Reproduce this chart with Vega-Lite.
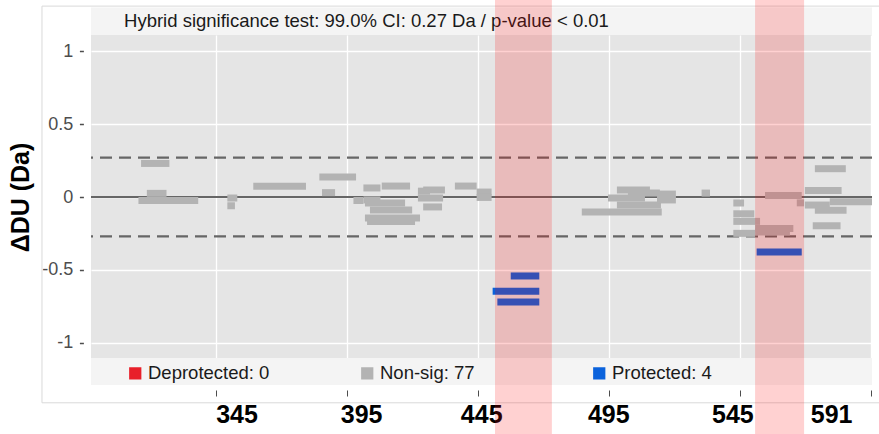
{
  "$schema": "https://vega.github.io/schema/vega-lite/v6.json",
  "width": 781,
  "height": 323,
  "autosize": {"type": "none"},
  "padding": {"left": 91, "top": 35, "right": 7, "bottom": 76},
  "background": "white",
  "config": {
    "view": {"fill": "#e5e5e5", "stroke": null},
    "font": "Liberation Sans"
  },
  "datasets": {
    "peptides": [
      {"start": 316.4, "end": 327.2, "value": 0.23, "status": "Non-sig"},
      {"start": 318.6, "end": 326.1, "value": 0.025, "status": "Non-sig"},
      {"start": 315.4, "end": 338.2, "value": -0.024, "status": "Non-sig"},
      {"start": 349.3, "end": 353.1, "value": -0.007, "status": "Non-sig"},
      {"start": 349.3, "end": 352.2, "value": -0.06, "status": "Non-sig"},
      {"start": 359.2, "end": 379.3, "value": 0.074, "status": "Non-sig"},
      {"start": 384.4, "end": 398.4, "value": 0.137, "status": "Non-sig"},
      {"start": 385.4, "end": 390.4, "value": 0.03, "status": "Non-sig"},
      {"start": 397.4, "end": 401.2, "value": -0.024, "status": "Non-sig"},
      {"start": 401.2, "end": 407.7, "value": 0.062, "status": "Non-sig"},
      {"start": 408.2, "end": 419.0, "value": 0.075, "status": "Non-sig"},
      {"start": 401.2, "end": 407.7, "value": -0.02, "status": "Non-sig"},
      {"start": 401.8, "end": 417.1, "value": -0.041, "status": "Non-sig"},
      {"start": 403.7, "end": 419.8, "value": -0.089, "status": "Non-sig"},
      {"start": 401.8, "end": 422.8, "value": -0.144, "status": "Non-sig"},
      {"start": 402.6, "end": 420.9, "value": -0.168, "status": "Non-sig"},
      {"start": 424.0, "end": 432.3, "value": 0.048, "status": "Non-sig"},
      {"start": 422.0, "end": 431.6, "value": -0.007, "status": "Non-sig"},
      {"start": 424.0, "end": 431.2, "value": -0.068, "status": "Non-sig"},
      {"start": 422.0, "end": 426.6, "value": 0.04, "status": "Non-sig"},
      {"start": 436.1, "end": 444.4, "value": 0.075, "status": "Non-sig"},
      {"start": 444.4, "end": 450.1, "value": 0.034, "status": "Non-sig"},
      {"start": 444.4, "end": 450.1, "value": -0.003, "status": "Non-sig"},
      {"start": 484.5, "end": 515.0, "value": -0.103, "status": "Non-sig"},
      {"start": 494.5, "end": 508.6, "value": -0.007, "status": "Non-sig"},
      {"start": 497.9, "end": 510.5, "value": 0.048, "status": "Non-sig"},
      {"start": 502.1, "end": 514.3, "value": 0.027, "status": "Non-sig"},
      {"start": 497.9, "end": 514.7, "value": -0.055, "status": "Non-sig"},
      {"start": 513.2, "end": 520.4, "value": 0.02, "status": "Non-sig"},
      {"start": 513.2, "end": 520.4, "value": -0.02, "status": "Non-sig"},
      {"start": 530.2, "end": 533.4, "value": 0.027, "status": "Non-sig"},
      {"start": 542.3, "end": 546.4, "value": -0.041, "status": "Non-sig"},
      {"start": 542.3, "end": 550.3, "value": -0.115, "status": "Non-sig"},
      {"start": 542.3, "end": 552.5, "value": -0.167, "status": "Non-sig"},
      {"start": 542.3, "end": 550.6, "value": -0.249, "status": "Non-sig"},
      {"start": 550.6, "end": 565.2, "value": -0.215, "status": "Non-sig"},
      {"start": 550.6, "end": 563.9, "value": -0.24, "status": "Non-sig"},
      {"start": 554.4, "end": 568.4, "value": 0.01, "status": "Non-sig"},
      {"start": 566.5, "end": 569.3, "value": -0.04, "status": "Non-sig"},
      {"start": 569.6, "end": 583.6, "value": 0.045, "status": "Non-sig"},
      {"start": 569.6, "end": 579.1, "value": -0.055, "status": "Non-sig"},
      {"start": 573.4, "end": 585.5, "value": -0.09, "status": "Non-sig"},
      {"start": 579.1, "end": 595.2, "value": -0.032, "status": "Non-sig"},
      {"start": 573.4, "end": 585.2, "value": 0.194, "status": "Non-sig"},
      {"start": 572.6, "end": 583.2, "value": -0.197, "status": "Non-sig"},
      {"start": 457.4, "end": 468.3, "value": -0.541, "status": "Protected"},
      {"start": 450.5, "end": 468.3, "value": -0.645, "status": "Protected"},
      {"start": 452.3, "end": 468.3, "value": -0.72, "status": "Protected"},
      {"start": 551.2, "end": 568.4, "value": -0.377, "status": "Protected"}
    ],
    "bands": [
      {"start": 451.4, "end": 473.1},
      {"start": 550.6, "end": 569.3}
    ],
    "thresholds": [
      {"t": 0.27},
      {"t": -0.27}
    ],
    "heading": [
      {"label": "Hybrid significance test: 99.0% CI: 0.27 Da / p-value < 0.01"}
    ]
  },
  "layer": [
    {
      "data": {"values": [{}]},
      "mark": {"type": "rect", "fill": null, "stroke": "#d9d9d9", "strokeWidth": 1},
      "encoding": {
        "x": {"datum": 278.6, "type": "quantitative", "title": null},
        "x2": {"datum": 610},
        "y": {"datum": 1.308, "type": "quantitative", "title": "ΔDU (Da)"},
        "y2": {"datum": -1.41}
      }
    },
    {
      "data": {"values": [{}]},
      "mark": {"type": "rect", "fill": "#f4f4f4"},
      "encoding": {
        "x": {"datum": 297.3, "type": "quantitative", "title": null},
        "x2": {"datum": 595.2},
        "y": {"datum": 1.11, "type": "quantitative", "title": "ΔDU (Da)"},
        "y2": {"datum": 1.298}
      }
    },
    {
      "data": {"values": [{}]},
      "mark": {"type": "rect", "fill": "#f4f4f4"},
      "encoding": {
        "x": {"datum": 297.3, "type": "quantitative", "title": null},
        "x2": {"datum": 595.2},
        "y": {"datum": -1.103, "type": "quantitative", "title": "ΔDU (Da)"},
        "y2": {"datum": -1.288}
      }
    },
    {
      "data": {"name": "heading"},
      "mark": {"type": "text", "align": "left", "baseline": "middle", "fontSize": 18.5, "font": "Liberation Sans", "color": "#1a1a1a"},
      "encoding": {
        "x": {"datum": 309.9, "type": "quantitative", "title": null},
        "y": {"datum": 1.205, "type": "quantitative", "title": "ΔDU (Da)"},
        "text": {"field": "label"}
      }
    },
    {
      "data": {"values": [{}]},
      "mark": {"type": "rule", "color": "#666666", "strokeWidth": 2.2},
      "encoding": {
        "y": {"datum": 0, "type": "quantitative", "title": "ΔDU (Da)"}
      }
    },
    {
      "data": {"name": "thresholds"},
      "mark": {"type": "rule", "color": "#666666", "strokeWidth": 2.2, "strokeDash": [12, 7]},
      "encoding": {
        "y": {"field": "t", "type": "quantitative", "title": "ΔDU (Da)"}
      }
    },
    {
      "data": {"name": "peptides"},
      "mark": {"type": "bar", "orient": "horizontal", "height": 7},
      "encoding": {
        "x": {
          "field": "start",
          "type": "quantitative",
          "title": null,
          "scale": {"domain": [297.3, 595.2], "nice": false, "zero": false, "padding": 0},
          "axis": {
            "values": [345, 395, 445, 495, 545, 595],
            "labelExpr": "datum.value == 595 ? '591' : datum.label",
            "domain": false,
            "grid": true,
            "gridColor": "#ffffff",
            "gridWidth": 1.3,
            "offset": 32,
            "tickSize": 6,
            "tickColor": "#4d4d4d",
            "tickWidth": 1,
            "labelPadding": 6,
            "labelFont": "Liberation Sans",
            "labelFontSize": 25,
            "labelFontWeight": "bold",
            "labelColor": "#000000",
            "labelOffset": {"expr": "datum.value == 345 ? 20.5 : datum.value == 395 ? 14 : datum.value == 445 ? 3 : datum.value == 495 ? -1 : datum.value == 545 ? -8 : -19.5"}
          }
        },
        "x2": {"field": "end"},
        "y": {
          "field": "value",
          "type": "quantitative",
          "title": "ΔDU (Da)",
          "scale": {"domain": [-1.103, 1.11], "nice": false, "zero": false, "padding": 0},
          "axis": {
            "values": [-1, -0.5, 0, 0.5, 1],
            "labelExpr": "'' + datum.value",
            "domain": false,
            "grid": true,
            "gridColor": "#ffffff",
            "gridWidth": 1.3,
            "offset": 7.6,
            "tickSize": 4,
            "tickColor": "#4d4d4d",
            "tickWidth": 1.5,
            "labelPadding": 6.6,
            "labelFont": "Liberation Sans",
            "labelFontSize": 18,
            "labelColor": "#4d4d4d",
            "titleFont": "Liberation Sans",
            "titleFontSize": 25,
            "titleFontWeight": "bold",
            "titleColor": "#000000",
            "titleAngle": 270,
            "titleAlign": "center",
            "titleBaseline": "middle",
            "titleX": -63,
            "titleY": 162
          }
        },
        "color": {
          "field": "status",
          "type": "nominal",
          "scale": {
            "domain": ["Deprotected", "Non-sig", "Protected"],
            "range": ["#e8202a", "#b3b3b3", "#0a62dc"]
          },
          "legend": {
            "title": null,
            "orient": "none",
            "legendX": 35,
            "legendY": 329,
            "direction": "horizontal",
            "columns": 3,
            "gridAlign": "all",
            "columnPadding": 88,
            "symbolType": "square",
            "symbolSize": 150,
            "symbolStrokeWidth": 0,
            "labelFont": "Liberation Sans",
            "labelFontSize": 18.5,
            "labelColor": "#1a1a1a",
            "labelOffset": 3.5,
            "labelExpr": "datum.label == 'Deprotected' ? 'Deprotected: 0' : datum.label == 'Non-sig' ? 'Non-sig: 77' : 'Protected: 4'"
          }
        }
      }
    },
    {
      "data": {"name": "bands"},
      "mark": {"type": "rect", "color": "#ff0000", "opacity": 0.18},
      "encoding": {
        "x": {"field": "start", "type": "quantitative", "title": null},
        "x2": {"field": "end"},
        "y": {"datum": 1.36, "type": "quantitative", "title": "ΔDU (Da)"},
        "y2": {"datum": -1.64}
      }
    }
  ]
}
